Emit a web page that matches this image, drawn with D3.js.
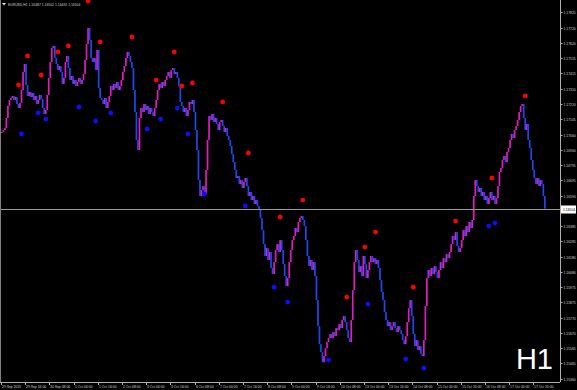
<!DOCTYPE html>
<html>
<head>
<meta charset="utf-8">
<script src="https://cdn.jsdelivr.net/npm/d3@7"></script>
<style>
  html, body { margin: 0; padding: 0; background: #000; }
  svg { display: block; }
  text { font-family: "Liberation Sans", Arial, sans-serif; }
</style>
</head>
<body>
<svg id="chart" width="577" height="390"></svg>
<script>
var symbol = "EURUSD,H1";
var ohlc_header = ["1.16487", "1.16502", "1.16492", "1.16504"];
var last_price = 1.16504;

// hourly closes, 29 Sep 00:00 .. 17 Oct 23:00
var closes = [
  1.17019,1.17032,1.17046,1.17113,1.17194,1.17234,1.17247,1.17261,1.17234,1.17254,1.17207,1.17180,1.17214,1.17301,1.17422,1.17476,1.17335,1.17261,1.17288,1.17254,1.17281,1.17234,1.17261,1.17207,1.17234,1.17268,1.17241,1.17180,1.17140,1.17167,1.17268,1.17382,1.17489,
  1.17583,1.17597,1.17516,1.17476,1.17436,1.17462,1.17422,1.17342,1.17382,1.17489,1.17530,1.17449,1.17368,1.17395,1.17342,1.17368,1.17328,1.17355,1.17382,1.17342,1.17368,1.17409,1.17503,1.17610,1.17718,1.17637,1.17516,1.17489,1.17516,1.17436,1.17570,1.17315,1.17247,
  1.17234,1.17207,1.17247,1.17180,1.17221,1.17261,1.17328,1.17301,1.17342,1.17315,1.17355,1.17301,1.17328,1.17368,1.17422,1.17462,1.17516,1.17557,1.17530,1.17489,1.17449,1.17301,1.17153,1.16965,1.16898,1.17113,1.17180,1.17153,1.17207,1.17167,1.17194,1.17140,1.17180,
  1.17153,1.17126,1.17180,1.17234,1.17301,1.17342,1.17315,1.17355,1.17328,1.17368,1.17395,1.17422,1.17382,1.17436,1.17449,1.17409,1.17422,1.17382,1.17328,1.17221,1.17194,1.17153,1.17180,1.17126,1.17167,1.17221,1.17207,1.17234,1.17153,1.17032,1.16898,1.16696,1.16589,
  1.16629,1.16656,1.16602,1.16764,1.16965,1.17126,1.17100,1.17140,1.17086,1.17113,1.17073,1.17032,1.17086,1.17100,1.17059,1.17019,1.17046,1.16992,1.16965,1.16925,1.16871,1.16817,1.16764,1.16710,1.16723,1.16670,1.16696,1.16643,1.16683,1.16710,1.16656,1.16589,1.16616,
  1.16562,1.16589,1.16535,1.16562,1.16522,1.16495,1.16441,1.16360,1.16266,1.16186,1.16239,1.16159,1.16213,1.16105,1.16065,1.16145,1.16226,1.16266,1.16213,1.16293,1.16226,1.16132,1.16051,1.15984,1.16038,1.16145,1.16226,1.16293,1.16320,1.16374,1.16347,1.16414,1.16441,
  1.16454,1.16428,1.16387,1.16293,1.16186,1.16118,1.16159,1.16092,1.16145,1.16051,1.15890,1.15715,1.15594,1.15541,1.15473,1.15514,1.15567,1.15608,1.15635,1.15662,1.15635,1.15675,1.15648,1.15702,1.15688,1.15729,1.15702,1.15756,1.15782,1.15742,1.15688,1.15635,1.15608,
  1.15756,1.15957,1.16145,1.16226,1.16159,1.16078,1.16118,1.16051,1.16186,1.16132,1.16038,1.16092,1.16145,1.16186,1.16145,1.16172,1.16132,1.16159,1.16105,1.16024,1.15944,1.15890,1.15809,1.15756,1.15715,1.15742,1.15688,1.15715,1.15742,1.15702,1.15675,1.15715,1.15688,
  1.15662,1.15621,1.15594,1.15648,1.15742,1.15836,1.15890,1.15782,1.15662,1.15581,1.15621,1.15554,1.15581,1.15527,1.15514,1.15621,1.15850,1.16038,1.16092,1.16051,1.16105,1.16065,1.16118,1.16078,1.16038,1.16092,1.16145,1.16105,1.16172,1.16145,1.16199,1.16172,1.16213,
  1.16266,1.16320,1.16293,1.16347,1.16253,1.16213,1.16239,1.16293,1.16360,1.16320,1.16387,1.16347,1.16414,1.16374,1.16428,1.16589,1.16696,1.16656,1.16616,1.16643,1.16589,1.16616,1.16562,1.16589,1.16535,1.16575,1.16616,1.16562,1.16589,1.16535,1.16575,1.16656,1.16750,
  1.16777,1.16831,1.16858,1.16817,1.16885,1.16911,1.16965,1.17006,1.16979,1.17032,1.17059,1.17100,1.17153,1.17194,1.17207,1.17113,1.17032,1.17073,1.16965,1.16911,1.16831,1.16764,1.16710,1.16670,1.16710,1.16656,1.16696,1.16670,1.16589,1.16504
];

// fractal markers: [bar index, price]
var up_fractals = [
  [11,1.17335],[17,1.17530],[26,1.17402],[37,1.17557],[44,1.17597],[57,1.17899],[65,1.17624],
  [86,1.17657],[102,1.17368],[114,1.17557],[119,1.17328],[126,1.17348],[146,1.17221],[163,1.16878],
  [184,1.16448],[199,1.16562],[228,1.15910],[240,1.16246],[247,1.16347],[272,1.15977],[300,1.16421],
  [324,1.16710],[346,1.17261]
];
var down_fractals = [
  [13,1.17006],[24,1.17147],[29,1.17106],[51,1.17187],[62,1.17093],[72,1.17147],[96,1.17039],
  [105,1.17106],[116,1.17180],[123,1.17006],[134,1.16602],[161,1.16522],[180,1.15977],[189,1.15877],
  [216,1.15487],[242,1.15863],[267,1.15494],[279,1.15433],[322,1.16387],[326,1.16407]
];

var price_ticks = [1.17825,1.17720,1.17620,1.17515,1.17415,1.17310,1.17210,1.17105,1.17000,1.16900,1.16795,1.16695,
                   1.16590,1.16385,1.16285,1.16180,1.16080,1.15975,1.15875,1.15770,1.15670,1.15565,1.15465,1.15360];
var time_labels = ["29 Sep 2025","29 Sep 16:00","30 Sep 08:00","1 Oct 00:00","1 Oct 16:00","2 Oct 08:00",
                   "3 Oct 00:00","3 Oct 16:00","6 Oct 08:00","7 Oct 00:00","7 Oct 16:00","8 Oct 08:00",
                   "9 Oct 00:00","9 Oct 16:00","10 Oct 08:00","13 Oct 00:00","13 Oct 16:00","14 Oct 08:00",
                   "15 Oct 00:00","15 Oct 16:00","16 Oct 08:00","17 Oct 00:00","17 Oct 16:00"];
var label_step = 16;

function draw_chart() {
  var svg = d3.select("#chart");
  var axis_x = 560, axis_y = 382;
  var fs = 3.4;

  var x = d3.scaleLinear().domain([0, closes.length]).range([1, 1 + closes.length * 1.5125]);
  var y = d3.scaleLinear().domain([1.15360, 1.17825]).range([379, 12]);
  var bw = 1.7;

  svg.append("rect").attr("width", 577).attr("height", 390).attr("fill", "#000");

  // bars: body from previous close to close
  var bars = closes.map(function(c, i) {
    var o = i == 0 ? c : closes[i - 1];
    return {i: i, o: o, c: c};
  });

  svg.append("g").selectAll("rect")
    .data(bars).enter().append("rect")
    .attr("x", function(d) { return x(d.i); })
    .attr("width", bw)
    .attr("y", function(d) { return Math.min(y(d.o), y(d.c)); })
    .attr("height", function(d) { return Math.max(1, Math.abs(y(d.o) - y(d.c))); })
    .attr("fill", function(d) { return d.c >= d.o ? "#e01cc0" : "#2148ee"; });

  // current price line
  var py = Math.round(y(last_price));
  svg.append("line")
    .attr("x1", 0).attr("x2", axis_x)
    .attr("y1", py + 0.5).attr("y2", py + 0.5)
    .attr("stroke", "#9a9a9a").attr("stroke-width", 1);

  // fractals
  svg.append("g").selectAll("circle")
    .data(up_fractals).enter().append("circle")
    .attr("cx", function(d) { return x(d[0]) + bw / 2; })
    .attr("cy", function(d) { return y(d[1]); })
    .attr("r", 2.4).attr("fill", "#ff0000");

  svg.append("g").selectAll("circle")
    .data(down_fractals).enter().append("circle")
    .attr("cx", function(d) { return x(d[0]) + bw / 2; })
    .attr("cy", function(d) { return y(d[1]); })
    .attr("r", 2.4).attr("fill", "#0a10ff");

  // frame
  svg.append("line").attr("x1", axis_x + 0.5).attr("x2", axis_x + 0.5).attr("y1", 0).attr("y2", axis_y)
    .attr("stroke", "#b0b0b0");
  svg.append("line").attr("x1", 0).attr("x2", axis_x).attr("y1", axis_y + 0.5).attr("y2", axis_y + 0.5)
    .attr("stroke", "#b0b0b0");
  svg.append("line").attr("x1", 0.5).attr("x2", 0.5).attr("y1", 0).attr("y2", axis_y)
    .attr("stroke", "#808080");

  // price axis
  var yaxis = svg.append("g").selectAll("g")
    .data(price_ticks).enter().append("g")
    .attr("transform", function(d) { return "translate(" + axis_x + "," + (Math.round(y(d)) + 0.5) + ")"; });
  yaxis.append("line").attr("x1", 0).attr("x2", 2.5).attr("stroke", "#b0b0b0");
  yaxis.append("text").attr("x", 3.5).attr("dy", "0.35em")
    .attr("font-size", fs).attr("fill", "#d0d0d0")
    .text(function(d) { return d.toFixed(5); });

  svg.append("rect").attr("x", axis_x + 1).attr("y", py - 3.5).attr("width", 15).attr("height", 8).attr("fill", "#ffffff");
  svg.append("text").attr("x", axis_x + 3).attr("y", py + 0.5).attr("dy", "0.35em")
    .attr("font-size", fs).attr("fill", "#000").text(last_price.toFixed(5));

  // time axis
  var xaxis = svg.append("g").selectAll("g")
    .data(time_labels).enter().append("g")
    .attr("transform", function(d, i) { return "translate(" + (Math.round(x(i * label_step)) + 0.5) + "," + axis_y + ")"; });
  xaxis.append("line").attr("y1", 0).attr("y2", 3).attr("stroke", "#b0b0b0");
  xaxis.append("text").attr("x", 0.5).attr("y", 6)
    .attr("font-size", fs).attr("fill", "#d0d0d0")
    .text(function(d) { return d; });

  // header
  svg.append("path").attr("d", "M2,3 L6,3 L4,5.5 Z").attr("fill", "#e0e0e0");
  svg.append("text").attr("x", 8).attr("y", 5.8)
    .attr("font-size", fs).attr("fill", "#d0d0d0")
    .text(symbol + " " + ohlc_header.join(" "));

  // timeframe watermark
  svg.append("text").attr("x", 553).attr("y", 369).attr("text-anchor", "end")
    .attr("font-family", "DejaVu Sans").attr("font-size", 29).attr("fill", "#ffffff")
    .text("H1");
}

draw_chart();
</script>
</body>
</html>
